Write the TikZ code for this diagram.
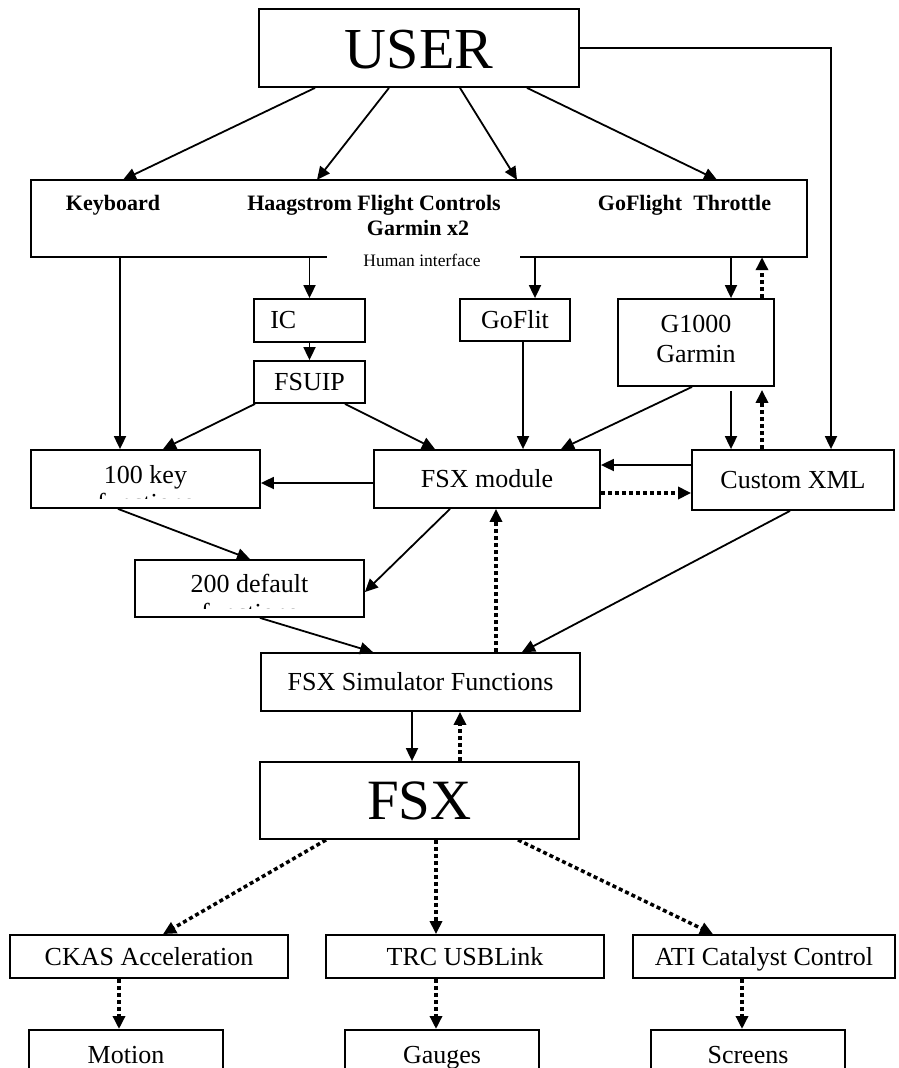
\documentclass[tikz,border=0pt]{standalone}
\usepackage{fontspec}
\setmainfont{Liberation Serif}
\usetikzlibrary{arrows.meta}
\begin{document}
\begin{tikzpicture}[x=1pt,y=-1pt,
  box/.style={draw, line width=1.8pt, inner sep=0pt, text height=17pt, text depth=0pt, font=\fontsize{26}{30}\selectfont},
  txt/.style={inner sep=0pt, font=\fontsize{26}{30}\selectfont},
  lbl/.style={inner sep=0pt, anchor=base, font=\bfseries\fontsize{22}{26}\selectfont},
  arr/.style={line width=1.8pt, -{Triangle[length=13pt,width=12pt]}},
  darr/.style={line width=3.5pt, dash pattern=on 4pt off 3pt, -{Triangle[length=13pt,width=12pt]}}]
\useasboundingbox (0,0) rectangle (898,1068);
\clip (0,0) rectangle (898,1068);

% nodes
\node[box, text height=40pt, minimum width=320pt, minimum height=78pt, font=\fontsize{58}{60}\selectfont] (user) at (419,48) {USER};
\node[inner sep=0pt, minimum width=776pt, minimum height=77pt] (hi) at (419,218.5) {};
\draw[line width=1.8pt] ([xshift=296pt]hi.south west) -- (hi.south west) -- (hi.north west) -- (hi.north east) -- (hi.south east) -- ([xshift=-287pt]hi.south east);
\node[lbl] (kbd) at (113,210) {Keyboard};
\node[lbl] (haag) at (374,210) {Haagstrom Flight Controls};
\node[lbl] (garm) at (418,235) {Garmin x2};
\node[lbl] (gofl) at (684.5,210) {GoFlight\ \ Throttle};
\node[inner sep=0pt, anchor=base, font=\fontsize{17.5}{20}\selectfont] (human) at (422,266) {Human interface};

\node[box, minimum width=111pt, minimum height=43pt] (ic) at (309.5,320.5) {};
\node[txt, anchor=west] (ictext) at ([xshift=17pt]ic.west) {IC};
\node[box, minimum width=111pt, minimum height=42pt] (fsuip) at (309.5,382) {FSUIP};
\node[box, minimum width=110pt, minimum height=42pt] (goflit) at (515,320) {GoFlit};
\node[box, minimum width=156pt, minimum height=87pt] (g1000) at (696,342.5) {};
\node[txt, anchor=base] (g1000a) at (696,332) {G1000};
\node[txt, anchor=base] (g1000b) at (696,362) {Garmin};

\node[box, minimum width=229pt, minimum height=58pt] (key) at (145.5,479) {};
\node[txt, anchor=base] (keytext) at (145.5,483) {100 key};
\begin{scope}
\clip (32,451) rectangle (259,498);
\node[txt, anchor=base] (keyfn) at (145.5,511) {functions};
\end{scope}
\node[box, minimum width=226pt, minimum height=58pt] (mod) at (487,479) {FSX module};
\node[box, minimum width=202pt, minimum height=60pt] (cx) at (793,480) {Custom XML};

\node[box, minimum width=229pt, minimum height=57pt] (def) at (249.5,588.5) {};
\node[txt, anchor=base] (deftext) at (249.5,592) {200 default};
\begin{scope}
\clip (136,561) rectangle (363,608);
\node[txt, anchor=base] (deffn) at (249.5,621) {functions};
\end{scope}

\node[box, minimum width=319pt, minimum height=58pt] (sim) at (420.5,682) {FSX Simulator Functions};
\node[box, text height=38pt, minimum width=319pt, minimum height=77pt, font=\fontsize{57}{60}\selectfont] (fsx) at (419.5,800.5) {FSX};

\node[box, minimum width=278pt, minimum height=43pt] (ckas) at (149,956.5) {CKAS Acceleration};
\node[box, minimum width=278pt, minimum height=43pt] (trc) at (465,956.5) {TRC USBLink};
\node[box, minimum width=262pt, minimum height=43pt] (ati) at (764,956.5) {ATI Catalyst Control};

\node[box, anchor=north, minimum width=194pt, minimum height=80pt] (motion) at (126,1029) {};
\node[txt, anchor=base] (motiont) at (126,1063) {Motion};
\node[box, anchor=north, minimum width=194pt, minimum height=80pt] (gauges) at (442,1029) {};
\node[txt, anchor=base] (gaugest) at (442,1063) {Gauges};
\node[box, anchor=north, minimum width=194pt, minimum height=80pt] (screens) at (748,1029) {};
\node[txt, anchor=base] (screenst) at (748,1063) {Screens};

% connectors
\draw[arr] ([xshift=-104pt]user.south) -- ([xshift=-296pt]hi.north);
\draw[arr] ([xshift=-30pt]user.south) -- ([xshift=-102pt]hi.north);
\draw[arr] ([xshift=41pt]user.south) -- ([xshift=98pt]hi.north);
\draw[arr] ([xshift=108pt]user.south) -- ([xshift=298pt]hi.north);
\draw[arr] (user.east) -| ([xshift=38pt]cx.north);

\draw[arr] ([xshift=-299pt]hi.south) -- ([xshift=-25.5pt]key.north);
\draw[arr] (hi.south -| ic.north) -- (ic.north);
\draw[arr] (ic.south) -- (fsuip.north);
\draw[arr] ([xshift=-54.5pt]fsuip.south) -- ([xshift=17.5pt]key.north);
\draw[arr] ([xshift=35.5pt]fsuip.south) -- ([xshift=-52pt]mod.north);
\draw[arr] ([xshift=116pt]hi.south) -- ([xshift=20pt]goflit.north);
\draw[arr] ([xshift=8pt]goflit.south) -- ([xshift=36pt]mod.north);
\draw[arr] ([xshift=312pt]hi.south) -- ([xshift=35pt]g1000.north);
\draw[darr] ([xshift=66pt]g1000.north) -- ([xshift=343pt]hi.south);
\draw[arr] ([xshift=-4pt]g1000.south) -- ([xshift=74pt]mod.north);
\draw[arr, shorten <=4pt] ([xshift=35pt]g1000.south) -- ([xshift=-62pt]cx.north);
\draw[darr] ([xshift=-31pt]cx.north) -- ([xshift=66pt, yshift=-3pt]g1000.south);

\draw[arr] ([yshift=15pt]cx.west) -- ([yshift=14pt]mod.east);
\draw[arr] ([yshift=-4pt]mod.west) -- ([yshift=-4pt]key.east);
\draw[darr] ([yshift=-14pt]mod.east) -- ([yshift=-13pt]cx.west);

\draw[arr] ([xshift=-27.5pt]key.south) -- ([xshift=0.5pt]def.north);
\draw[arr] ([xshift=-37pt]mod.south) -- ([yshift=-3.5pt]def.east);
\draw[arr] ([xshift=10.5pt]def.south) -- ([xshift=-47.5pt]sim.north);
\draw[darr] ([xshift=75.5pt]sim.north) -- ([xshift=9pt]mod.south);
\draw[arr] ([xshift=-3pt]cx.south) -- ([xshift=101.5pt]sim.north);

\draw[arr] ([xshift=-8.5pt]sim.south) -- ([xshift=-7.5pt]fsx.north);
\draw[darr] ([xshift=40.5pt]fsx.north) -- ([xshift=39.5pt]sim.south);

\draw[darr] ([xshift=-93.5pt]fsx.south) -- ([xshift=14pt]ckas.north);
\draw[darr] ([xshift=16.5pt]fsx.south) -- ([xshift=-29pt]trc.north);
\draw[darr] ([xshift=98.5pt]fsx.south) -- ([xshift=-51pt]ati.north);

\draw[darr] ([xshift=-30pt]ckas.south) -- ([xshift=-7pt]motion.north);
\draw[darr] ([xshift=-29pt]trc.south) -- ([xshift=-6pt]gauges.north);
\draw[darr] ([xshift=-22pt]ati.south) -- ([xshift=-6pt]screens.north);
\end{tikzpicture}
\end{document}
